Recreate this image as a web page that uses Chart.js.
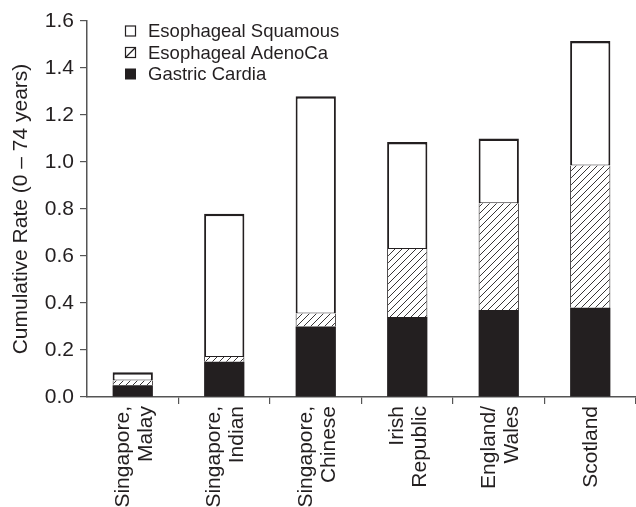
<!DOCTYPE html>
<html>
<head>
<meta charset="utf-8">
<script src="https://cdn.jsdelivr.net/npm/chart.js@4/dist/chart.umd.min.js"></script>
<style>
  html, body { margin: 0; padding: 0; background: #fff; overflow: hidden; }
  canvas { display: block; }
</style>
</head>
<body>
<canvas id="rateChart" width="636" height="507"></canvas>
<script>
// categories (two-line labels) and cumulative rate per segment
const regions = [
    ["Singapore,", "Malay"],
    ["Singapore,", "Indian"],
    ["Singapore,", "Chinese"],
    ["Irish", "Republic"],
    ["England/", "Wales"],
    ["", "Scotland"],
];
const gastricCardia = [0.05, 0.15, 0.30, 0.34, 0.37, 0.38];
const esoAdeno = [0.02, 0.02, 0.055, 0.29, 0.455, 0.605];
const esoSquamous = [0.035, 0.61, 0.925, 0.455, 0.275, 0.53];
const yTicks = [0, 0.2, 0.4, 0.6, 0.8, 1.0, 1.2, 1.4, 1.6];

const INK = "#231f20";
const FONT = "'Liberation Sans', Arial, Helvetica, sans-serif";

// diagonal hatch pattern for the adenocarcinoma segment
const makeHatch = () => {
    const size = 7;
    const c = document.createElement("canvas");
    c.width = size;
    c.height = size;
    const g = c.getContext("2d");
    g.fillStyle = "#fff";
    g.fillRect(0, 0, size, size);
    g.strokeStyle = INK;
    g.lineWidth = 0.9;
    g.beginPath();
    g.moveTo(-1, size + 1);
    g.lineTo(size + 1, -1);
    g.moveTo(-1, 1);
    g.lineTo(1, -1);
    g.moveTo(size - 1, size + 1);
    g.lineTo(size + 1, size - 1);
    g.stroke();
    return g.createPattern(c, "repeat");
};

const ctx = document.getElementById("rateChart").getContext("2d");
const hatch = makeHatch();

// legend drawn inside the plot, squamous on top
const insideLegend = {
    id: "insideLegend",
    afterDraw(chart) {
        const g = chart.ctx;
        const items = chart.data.datasets.slice().reverse();
        g.save();
        g.font = "18.5px " + FONT;
        g.textBaseline = "middle";
        items.forEach((ds, i) => {
            const y = 31 + i * 21.5;
            const bx = 125.5, by = y - 5, s = 10;
            if (ds.label === "Gastric Cardia") {
                g.fillStyle = INK;
                g.fillRect(bx - 0.5, by - 0.5, s + 1, s + 1);
            } else {
                g.fillStyle = "#fff";
                g.fillRect(bx, by, s, s);
                g.strokeStyle = INK;
                g.lineWidth = 1.2;
                g.strokeRect(bx, by, s, s);
                if (ds.label === "Esophageal AdenoCa") {
                    g.beginPath();
                    g.moveTo(bx, by + s);
                    g.lineTo(bx + s, by);
                    g.stroke();
                }
            }
            g.fillStyle = INK;
            g.fillText(ds.label, 148, y + 1);
        });
        g.restore();
    },
};

new Chart(ctx, {
    type: "bar",
    data: {
        labels: regions,
        datasets: [
            {
                label: "Gastric Cardia",
                data: gastricCardia,
                backgroundColor: INK,
                borderColor: INK,
                borderWidth: 0,
            },
            {
                label: "Esophageal AdenoCa",
                data: esoAdeno,
                backgroundColor: hatch,
                borderColor: INK,
                borderWidth: { top: 0, left: 1, right: 1, bottom: 0 },
                borderSkipped: false,
            },
            {
                label: "Esophageal Squamous",
                data: esoSquamous,
                backgroundColor: "#fff",
                borderColor: INK,
                borderWidth: { top: 2.5, left: 2, right: 2, bottom: 1 },
                borderSkipped: false,
            },
        ],
    },
    options: {
        responsive: false,
        animation: false,
        layout: { padding: { top: 21, right: 0, left: 0, bottom: 0 } },
        datasets: { bar: { categoryPercentage: 1, barPercentage: 0.44 } },
        plugins: {
            legend: { display: false },
            tooltip: { enabled: false },
        },
        scales: {
            x: {
                stacked: true,
                border: { color: "#555", width: 1.5 },
                grid: {
                    offset: true,
                    drawOnChartArea: false,
                    tickLength: 7,
                    color: (c) => (c.index === 0 ? "rgba(0,0,0,0)" : "#555"),
                    lineWidth: 1.2,
                },
                ticks: {
                    color: INK,
                    // last label is single-line: tighter line step re-centres it
                    font: (c) => ({
                        family: FONT,
                        size: 21,
                        lineHeight: c.index === 5 ? 0.5 : 1.1,
                    }),
                    maxRotation: 90,
                    minRotation: 90,
                    labelOffset: -10,
                    padding: 2,
                },
                afterFit: (scale) => { scale.height = 110; },
            },
            y: {
                stacked: true,
                min: 0,
                max: 1.6,
                afterBuildTicks: (scale) => {
                    scale.ticks = yTicks.map((v) => ({ value: v }));
                },
                border: { color: "#555", width: 1.5 },
                grid: {
                    drawOnChartArea: false,
                    tickLength: 7,
                    color: "#555",
                    lineWidth: 1.2,
                },
                ticks: {
                    color: INK,
                    font: { family: FONT, size: 21 },
                    padding: 6,
                    callback: (v) => Number(v).toFixed(1),
                },
                title: {
                    display: true,
                    text: "Cumulative Rate (0 – 74 years)",
                    color: INK,
                    font: { family: FONT, size: 21 },
                    padding: { top: 9, bottom: 0 },
                },
                afterFit: (scale) => { scale.width = 87; },
            },
        },
    },
    plugins: [insideLegend],
});
</script>
</body>
</html>
